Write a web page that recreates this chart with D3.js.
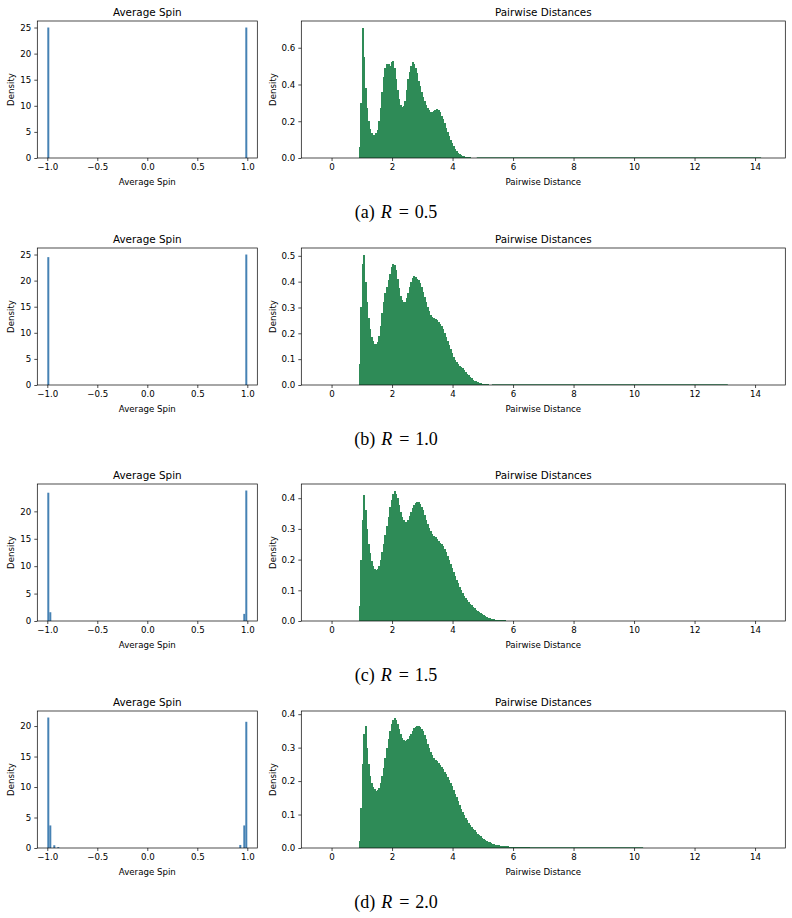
<!DOCTYPE html>
<html>
<head>
<meta charset="utf-8">
<script src="https://cdn.jsdelivr.net/npm/d3@7"></script>
<style>
body { margin: 0; background: #fff; }
.tick text { font-family: "DejaVu Sans"; font-size: 8.65px; fill: #000; }
.tick line { stroke: #000; stroke-width: 0.7; }
.lbl { font-family: "DejaVu Sans"; font-size: 8.65px; fill: #000; }
.ttl { font-family: "DejaVu Sans"; font-size: 10.4px; fill: #000; }
</style>
</head>
<body>
<script>
// sub-figure captions
var captions = ["(a)", "(b)", "(c)", "(d)"];
var radii = ["0.5", "1.0", "1.5", "2.0"];

// Average Spin histograms: left edge of each non-empty bin (bin width 0.02) and its density
var spinBinWidth = 0.02;
var spinEdgesA = [-1.0, 0.98];
var spinDensA  = [25.0, 25.0];
var spinEdgesB = [-1.0, 0.98];
var spinDensB  = [24.5, 25.0];
var spinEdgesC = [-1.0, -0.98, 0.96, 0.98];
var spinDensC  = [23.4, 1.6, 1.3, 23.8];
var spinEdgesD = [-1.0, -0.98, -0.94, -0.90, 0.92, 0.96, 0.98];
var spinDensD  = [21.4, 3.7, 0.45, 0.15, 0.5, 3.7, 20.7];

// Pairwise distance histograms: bins of width 0.05 starting at 0.90
var distStart = 0.90, distBinWidth = 0.05;
var distA = [0.06,0.30,0.71,0.55,0.38,0.27,0.20,0.16,0.135,0.125,0.125,0.135,0.155,0.20,0.27,0.36,0.44,0.49,0.51,0.51,
  0.50,0.52,0.53,0.49,0.43,0.37,0.32,0.29,0.28,0.285,0.31,0.37,0.43,0.47,0.50,0.52,0.51,0.49,0.46,0.42,
  0.39,0.36,0.33,0.31,0.29,0.27,0.26,0.25,0.25,0.255,0.26,0.265,0.26,0.25,0.23,0.21,0.19,0.165,0.14,0.12,
  0.10,0.08,0.065,0.05,0.038,0.028,0.02,0.015,0.011,0.009,0.007,0.005,0.004,0.003,0.0025,0.002,0.0015,0.001];
var distB = [0.08,0.30,0.47,0.505,0.40,0.32,0.26,0.215,0.185,0.17,0.16,0.158,0.165,0.19,0.23,0.28,0.32,0.355,0.38,0.405,
  0.43,0.455,0.468,0.465,0.445,0.41,0.375,0.345,0.33,0.32,0.322,0.335,0.355,0.38,0.40,0.415,0.42,0.418,0.412,0.405,
  0.395,0.38,0.36,0.34,0.32,0.30,0.285,0.27,0.262,0.258,0.255,0.25,0.245,0.238,0.228,0.215,0.20,0.185,0.17,0.155,
  0.14,0.125,0.11,0.098,0.088,0.08,0.075,0.07,0.064,0.057,0.05,0.043,0.037,0.031,0.026,0.021,0.017,0.014,0.011,0.009,
  0.007,0.0055,0.0045,0.0035,0.0028,0.0022,0.0017,0.0012];
var distC = [0.05,0.20,0.33,0.41,0.36,0.30,0.25,0.22,0.195,0.18,0.17,0.167,0.17,0.18,0.20,0.225,0.25,0.28,0.31,0.34,
  0.37,0.395,0.413,0.425,0.415,0.40,0.378,0.355,0.338,0.328,0.324,0.323,0.33,0.342,0.355,0.368,0.378,0.385,0.388,0.386,
  0.381,0.372,0.36,0.345,0.33,0.316,0.304,0.294,0.285,0.278,0.272,0.266,0.26,0.255,0.25,0.243,0.235,0.225,0.213,0.20,
  0.187,0.173,0.16,0.147,0.135,0.123,0.112,0.101,0.091,0.082,0.075,0.068,0.062,0.056,0.051,0.046,0.041,0.037,0.033,0.029,
  0.025,0.022,0.019,0.016,0.013,0.011,0.009,0.0075,0.0062,0.0052,0.0045,0.004,0.0035,0.003,0.0026,0.0022,0.0019,0.0016,0.0013];
var distD = [0.02,0.12,0.25,0.34,0.365,0.30,0.25,0.215,0.195,0.182,0.175,0.17,0.172,0.18,0.195,0.215,0.24,0.27,0.30,0.325,
  0.35,0.37,0.383,0.39,0.383,0.37,0.355,0.34,0.33,0.323,0.32,0.322,0.327,0.334,0.342,0.351,0.358,0.362,0.365,0.365,
  0.362,0.357,0.349,0.338,0.326,0.312,0.298,0.287,0.277,0.27,0.264,0.259,0.254,0.249,0.243,0.236,0.228,0.22,0.212,0.203,
  0.194,0.184,0.173,0.162,0.151,0.14,0.129,0.118,0.108,0.099,0.091,0.083,0.076,0.07,0.064,0.058,0.053,0.048,0.043,0.039,
  0.035,0.031,0.028,0.025,0.022,0.019,0.017,0.015,0.013,0.011,0.0095,0.0085,0.0075,0.0068,0.0062,0.0057,0.0053,0.005,0.0047,0.0044,
  0.0041,0.0038,0.0036,0.0034,0.0032,0.003,0.0028,0.0026,0.0024,0.0022,0.002,0.0018,0.0016];
// sparse far tail of each distance histogram: where it ends and its (tiny) density
var distTailEnd = [14.2, 13.1, 5.85, 10.3];
var distTailDens = 0.0005;

// ticks
var spinTicksX = [-1, -0.5, 0, 0.5, 1];
var spinTicksY = [0, 5, 10, 15, 20, 25];
var distTicksX = [0, 2, 4, 6, 8, 10, 12, 14];
var distTicksY = [[0, 0.2, 0.4, 0.6], [0, 0.1, 0.2, 0.3, 0.4, 0.5], [0, 0.1, 0.2, 0.3, 0.4], [0, 0.1, 0.2, 0.3, 0.4]];

var spinEdges = [spinEdgesA, spinEdgesB, spinEdgesC, spinEdgesD];
var spinDens = [spinDensA, spinDensB, spinDensC, spinDensD];
var dists = [distA, distB, distC, distD];

var W = 792, H = 918;
var rowTop = [21, 248, 484, 711], rowH = 137;
var leftBox = {x: 37.3, w: 220}, rightBox = {x: 301.3, w: 484};

var svg = d3.select("body").append("svg")
    .attr("width", W)
    .attr("height", H);

function axesFrame(g, box, x, y, xt, yt, fx, fy, title, xlabel, ylabelX) {
    g.append("g")
        .attr("transform", "translate(0," + rowH + ")")
        .call(d3.axisBottom(x).tickValues(xt).tickFormat(fx).tickSize(3).tickPadding(3))
        .call(function (s) { s.select(".domain").remove(); });
    g.append("g")
        .call(d3.axisLeft(y).tickValues(yt).tickFormat(fy).tickSize(3).tickPadding(3))
        .call(function (s) { s.select(".domain").remove(); });
    g.append("rect")
        .attr("width", box.w)
        .attr("height", rowH)
        .attr("fill", "none")
        .attr("stroke", "#000")
        .attr("stroke-width", 0.7);
    g.append("text").attr("class", "ttl")
        .attr("x", box.w / 2).attr("y", -5.5)
        .attr("text-anchor", "middle")
        .text(title);
    g.append("text").attr("class", "lbl")
        .attr("x", box.w / 2).attr("y", rowH + 27)
        .attr("text-anchor", "middle")
        .text(xlabel);
    g.append("text").attr("class", "lbl")
        .attr("transform", "translate(" + ylabelX + "," + (rowH / 2) + ") rotate(-90)")
        .attr("text-anchor", "middle")
        .text("Density");
}

for (var i = 0; i < 4; i++) {
    var rowY = rowTop[i];

    // ---- Average Spin
    var gl = svg.append("g").attr("transform", "translate(" + leftBox.x + "," + rowY + ")");
    var xl = d3.scaleLinear().domain([-1.1, 1.1]).range([0, leftBox.w]);
    var yl = d3.scaleLinear().domain([0, d3.max(spinDens[i]) * 1.05]).range([rowH, 0]);
    var sd = spinEdges[i].map(function (e, k) { return {x0: e, v: spinDens[i][k]}; });
    gl.selectAll(".bar").data(sd).enter().append("rect")
        .attr("class", "bar")
        .attr("x", function (d) { return xl(d.x0); })
        .attr("width", function (d) { return xl(d.x0 + spinBinWidth) - xl(d.x0); })
        .attr("y", function (d) { return yl(d.v); })
        .attr("height", function (d) { return yl(0) - yl(d.v); })
        .style("fill", "steelblue");
    axesFrame(gl, leftBox, xl, yl, spinTicksX,
        spinTicksY.filter(function (t) { return t <= yl.domain()[1]; }),
        d3.format(".1f"), d3.format("d"), "Average Spin", "Average Spin", -23.5);

    // ---- Pairwise Distances
    var gr = svg.append("g").attr("transform", "translate(" + rightBox.x + "," + rowY + ")");
    var xr = d3.scaleLinear().domain([-1, 15]).range([0, rightBox.w]);
    var yr = d3.scaleLinear().domain([0, d3.max(dists[i]) * 1.05]).range([rowH, 0]);
    var dd = dists[i].map(function (v, k) { return {x0: distStart + k * distBinWidth, v: v}; });
    var lastEdge = distStart + dists[i].length * distBinWidth;
    if (distTailEnd[i] > lastEdge) {
        // far tail is below one pixel; show it as a thin line along the baseline
        gr.append("rect")
            .attr("x", xr(lastEdge))
            .attr("width", xr(distTailEnd[i]) - xr(lastEdge))
            .attr("y", yr(distTailDens) - 0.6)
            .attr("height", yr(0) - yr(distTailDens) + 0.6)
            .style("fill", "seagreen");
    }
    gr.selectAll(".bar").data(dd).enter().append("rect")
        .attr("class", "bar")
        .attr("x", function (d) { return xr(d.x0); })
        .attr("width", function (d) { return xr(d.x0 + distBinWidth) - xr(d.x0) + 0.6; })
        .attr("y", function (d) { return yr(d.v); })
        .attr("height", function (d) { return yr(0) - yr(d.v); })
        .attr("shape-rendering", "crispEdges")
        .style("fill", "seagreen");
    axesFrame(gr, rightBox, xr, yr, distTicksX, distTicksY[i],
        d3.format("d"), d3.format(".1f"), "Pairwise Distances", "Pairwise Distance", -25);

    // ---- caption
    var cap = svg.append("text")
        .attr("x", W / 2)
        .attr("y", rowY + rowH + 59.5)
        .attr("text-anchor", "middle")
        .style("font-family", "Liberation Serif")
        .style("font-size", "18px");
    cap.append("tspan").text(captions[i]);
    cap.append("tspan").attr("dx", 6).style("font-style", "italic").text("R");
    cap.append("tspan").attr("dx", 7).text("=");
    cap.append("tspan").attr("dx", 6).text(radii[i]);
}
</script>
</body>
</html>
